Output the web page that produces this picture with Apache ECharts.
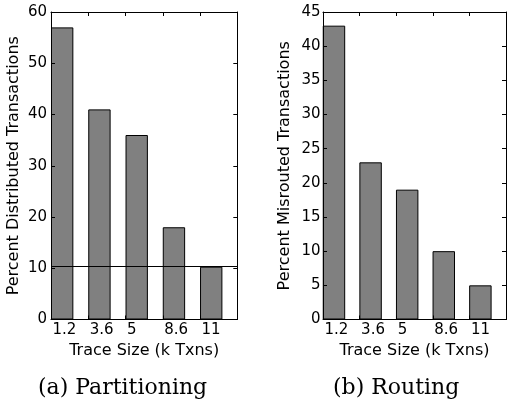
<!DOCTYPE html>
<html>
<head>
<meta charset="utf-8">
<script src="https://cdn.jsdelivr.net/npm/echarts@6/dist/echarts.min.js"></script>
<style>
  html, body { margin: 0; padding: 0; background: #fff; }
  #chart { width: 509px; height: 403px; }
</style>
</head>
<body>
<div id="chart"></div>
<script>
// ---- data ----
const traceSizes = ['1.2', '3.6', '5', '8.6', '11'];
const distributedPct = [57, 41, 36, 18, 10.3];
const misroutedPct = [43, 23, 19, 10, 5];
const partitionBaseline = 10.3;
const yTitles = ['Percent Distributed Transactions', 'Percent Misrouted Transactions'];
const xTitle = 'Trace Size (k Txns)';
const captions = ['(a) Partitioning', '(b) Routing'];
const yMax = [60, 45];
const yStep = [10, 5];

// ---- styling ----
const BAR_FRAC = 0.6;
const SANS = 'DejaVu Sans';
const grids = [
  { left: 51, top: 12, width: 186.3, height: 307.5 },
  { left: 323, top: 12, width: 187, height: 307.5 }
];
const lineStyle = { color: '#000', width: 1 };

const xAxes = [], yAxes = [], series = [];
grids.forEach((g, k) => {
  const slotPx = g.width / traceSizes.length;
  xAxes.push({
    type: 'value', gridIndex: k, position: 'bottom', min: 0, max: traceSizes.length, interval: 1,
    z: 5,
    axisLine: { show: true, onZero: false, lineStyle },
    axisTick: { show: true, inside: true, length: 4, lineStyle },
    splitLine: { show: false },
    axisLabel: {
      show: true, color: '#000', fontFamily: SANS, fontSize: 15, align: 'left', margin: 3,
      padding: [0, 0, 0, 1.5],
      formatter: v => (traceSizes[v] !== undefined ? traceSizes[v] : '')
    },
    name: xTitle, nameLocation: 'middle', nameGap: 21,
    nameTextStyle: { color: '#000', fontFamily: SANS, fontSize: 16 }
  });
  xAxes.push({
    type: 'value', gridIndex: k, position: 'top', min: 0, max: traceSizes.length, interval: 1,
    z: 5,
    axisLine: { show: true, onZero: false, lineStyle },
    axisTick: { show: true, inside: true, length: 4, lineStyle },
    splitLine: { show: false },
    axisLabel: { show: false }
  });
  yAxes.push({
    type: 'value', gridIndex: k, position: 'left', min: 0, max: yMax[k], interval: yStep[k],
    z: 5,
    axisLine: { show: true, onZero: false, lineStyle },
    axisTick: { show: true, inside: true, length: 4, lineStyle },
    splitLine: { show: false },
    axisLabel: { color: '#000', fontFamily: SANS, fontSize: 15, margin: k === 0 ? 4 : 2.5 },
    name: yTitles[k], nameLocation: 'middle', nameGap: k === 0 ? 29 : 30, nameRotate: 90,
    nameTextStyle: { color: '#000', fontFamily: SANS, fontSize: 16 }
  });
  yAxes.push({
    type: 'value', gridIndex: k, position: 'right', min: 0, max: yMax[k], interval: yStep[k],
    z: 5,
    axisLine: { show: true, onZero: false, lineStyle },
    axisTick: { show: true, inside: true, length: 4, lineStyle },
    splitLine: { show: false },
    axisLabel: { show: false }
  });
  const vals = k === 0 ? distributedPct : misroutedPct;
  const s = {
    type: 'bar',
    xAxisIndex: 2 * k, yAxisIndex: 2 * k,
    data: vals.map((v, i) => [i + BAR_FRAC / 2, v]),
    barWidth: BAR_FRAC * slotPx,
    itemStyle: { color: '#808080', borderColor: '#000', borderWidth: 1 },
    silent: true
  };
  if (k === 0) {
    s.markLine = {
      silent: true, symbol: ['none', 'none'], animation: false,
      label: { show: false },
      lineStyle: { color: '#000', type: 'solid', width: 1 },
      data: [{ yAxis: partitionBaseline }]
    };
  }
  series.push(s);
});

const chart = echarts.init(document.getElementById('chart'), null, { renderer: 'canvas' });
chart.setOption({
  animation: false,
  backgroundColor: '#fff',
  grid: grids.map(g => Object.assign({ containLabel: false }, g)),
  xAxis: xAxes,
  yAxis: yAxes,
  series: series,
  graphic: captions.map((c, k) => ({
    type: 'text',
    left: k === 0 ? 38 : 333,
    top: 377,
    style: { text: c, fontFamily: 'DejaVu Serif', fontSize: 22, fill: '#000' }
  }))
});
</script>
</body>
</html>
